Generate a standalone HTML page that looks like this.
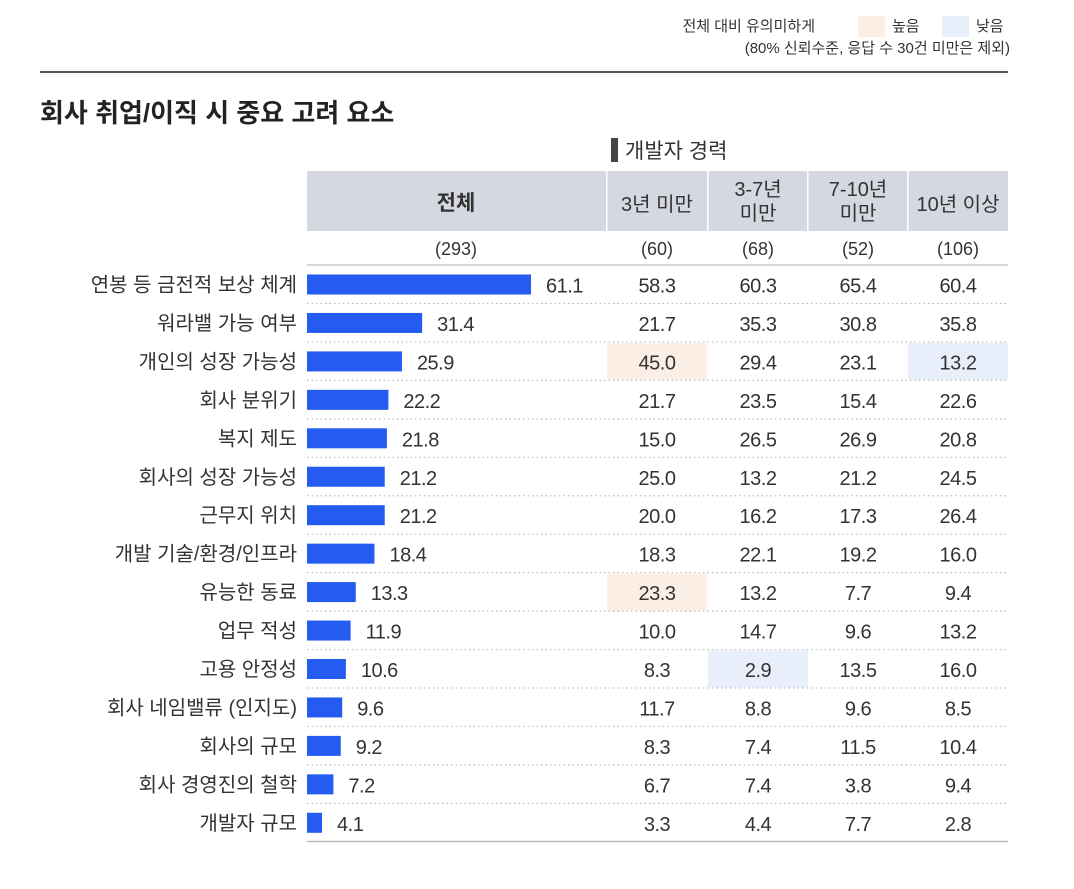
<!DOCTYPE html>
<html><head><meta charset="utf-8">
<style>
html,body{margin:0;padding:0;background:#fff;}
body{width:1074px;height:884px;overflow:hidden;font-family:"Liberation Sans","Noto Sans CJK KR",sans-serif;}
svg text{font-family:"Liberation Sans","Noto Sans CJK KR",sans-serif;}
</style></head><body>
<svg id="chart" width="1074" height="884" xmlns="http://www.w3.org/2000/svg">
<g>
<text x="815" y="31" font-size="15" fill="#333" text-anchor="end">전체 대비 유의미하게</text>
<rect x="858" y="16" width="27" height="21" fill="#fbeee5"/>
<text x="892" y="31" font-size="15" fill="#333">높음</text>
<rect x="942" y="16" width="27" height="21" fill="#e9eefb"/>
<text x="976" y="31" font-size="15" fill="#333">낮음</text>
<text x="1010" y="53" font-size="15" fill="#333" text-anchor="end">(80% 신뢰수준, 응답 수 30건 미만은 제외)</text>
</g>
<rect x="40" y="71" width="968" height="2" fill="#555"/>
<text x="40" y="122" font-size="26" font-weight="bold" fill="#222">회사 취업/이직 시 중요 고려 요소</text>
<rect x="611" y="138" width="7" height="24" fill="#444"/>
<text x="625" y="158" font-size="21" fill="#333">개발자 경력</text>
<rect x="307" y="171" width="701" height="60" fill="#d5d8e0"/>
<g id="hdr"></g>
<g id="rows"></g>
</svg>
<script>
const categories=["연봉 등 금전적 보상 체계","워라밸 가능 여부","개인의 성장 가능성","회사 분위기","복지 제도","회사의 성장 가능성","근무지 위치","개발 기술/환경/인프라","유능한 동료","업무 적성","고용 안정성","회사 네임밸류 (인지도)","회사의 규모","회사 경영진의 철학","개발자 규모"];
const totalValues=[61.1,31.4,25.9,22.2,21.8,21.2,21.2,18.4,13.3,11.9,10.6,9.6,9.2,7.2,4.1];
const under3=[58.3,21.7,45.0,21.7,15.0,25.0,20.0,18.3,23.3,10.0,8.3,11.7,8.3,6.7,3.3];
const y3to7=[60.3,35.3,29.4,23.5,26.5,13.2,16.2,22.1,13.2,14.7,2.9,8.8,7.4,7.4,4.4];
const y7to10=[65.4,30.8,23.1,15.4,26.9,21.2,17.3,19.2,7.7,9.6,13.5,9.6,11.5,3.8,7.7];
const over10=[60.4,35.8,13.2,22.6,20.8,24.5,26.4,16.0,9.4,13.2,16.0,8.5,10.4,9.4,2.8];
const groupLabels=[["3년 미만"],["3-7년","미만"],["7-10년","미만"],["10년 이상"]];
const groupCounts=["(60)","(68)","(52)","(106)"];
const totalCount="(293)";
// significance: 1 = higher, -1 = lower, 0 = none
const sigUnder3=[0,0,1,0,0,0,0,0,1,0,0,0,0,0,0];
const sig3to7=[0,0,0,0,0,0,0,0,0,0,-1,0,0,0,0];
const sig7to10=[0,0,0,0,0,0,0,0,0,0,0,0,0,0,0];
const sigOver10=[0,0,-1,0,0,0,0,0,0,0,0,0,0,0,0];

const NS="http://www.w3.org/2000/svg";
const hdr=document.getElementById('hdr'), rows=document.getElementById('rows');
function mk(tag,attrs,parent,txt){const e=document.createElementNS(NS,tag);for(const k in attrs)e.setAttribute(k,attrs[k]);if(txt!==undefined)e.textContent=txt;parent.appendChild(e);return e;}
const x0=307, xScale=v=>v*224/61.1;
const rowY=i=>265+i*38.45;
const colL=[607,708,808,908], colW=100;
const groups=[under3,y3to7,y7to10,over10], sigs=[sigUnder3,sig3to7,sig7to10,sigOver10];

let t=mk('text',{x:456,y:210,'font-size':21,'font-weight':'bold',fill:'#333','text-anchor':'middle'},hdr,'전체');


t=mk('text',{x:456,y:255,'font-size':18,fill:'#333','text-anchor':'middle'},hdr,totalCount);


groupLabels.forEach((lab,g)=>{
  const cx=colL[g]+colW/2;
  const s=mk('rect',{x:colL[g]-1,y:171,width:1.5,height:60,fill:'#fff'},hdr);
  
  
  lab.forEach((l,k)=>{
    const yy=lab.length===1?211:196+k*24;
    const e=mk('text',{x:cx,y:yy,'font-size':20,fill:'#333','text-anchor':'middle'},hdr,l);
    
    
  });
  const c=mk('text',{x:cx,y:255,'font-size':18,fill:'#333','text-anchor':'middle'},hdr,groupCounts[g]);
  
  
});
let ln=mk('rect',{x:307,y:264,width:701,height:2,fill:'#d8d8d8'},hdr);



categories.forEach((cat,i)=>{
  const top=rowY(i), cy=top+19.5;
  sigs.forEach((s,g)=>{
    if(s[i]!==0){
      const r=mk('rect',{x:colL[g],y:top+1,width:colW,height:37,fill:s[i]>0?'#fbeee5':'#e9eefb'},rows);
      
      
    }
  });
  const l=mk('text',{x:297,y:cy+7,'font-size':20,fill:'#333','text-anchor':'end'},rows,cat);
  
  
  const b=mk('rect',{x:x0,y:cy-10,width:xScale(totalValues[i]),height:20,fill:'#245bf0'},rows);
  
  
  const v=mk('text',{x:x0+xScale(totalValues[i])+15,y:cy+8,'font-size':20,fill:'#333','letter-spacing':'-0.5'},rows,totalValues[i].toFixed(1));
  
  
  groups.forEach((arr,g)=>{
    const e=mk('text',{x:colL[g]+colW/2,y:cy+8,'font-size':20,fill:'#333','text-anchor':'middle','letter-spacing':'-0.5'},rows,arr[i].toFixed(1));
    
    
  });
  if(i<categories.length-1){
    const d=mk('line',{x1:307,x2:1008,y1:top+38.5,y2:top+38.5,stroke:'#bbb','stroke-width':1.2,'stroke-dasharray':'1.5 3'},rows);
    
    
  }
});
const bl=mk('rect',{x:307,y:rowY(categories.length)-1,width:701,height:1.5,fill:'#bbb'},rows);


</script>
</body></html>
